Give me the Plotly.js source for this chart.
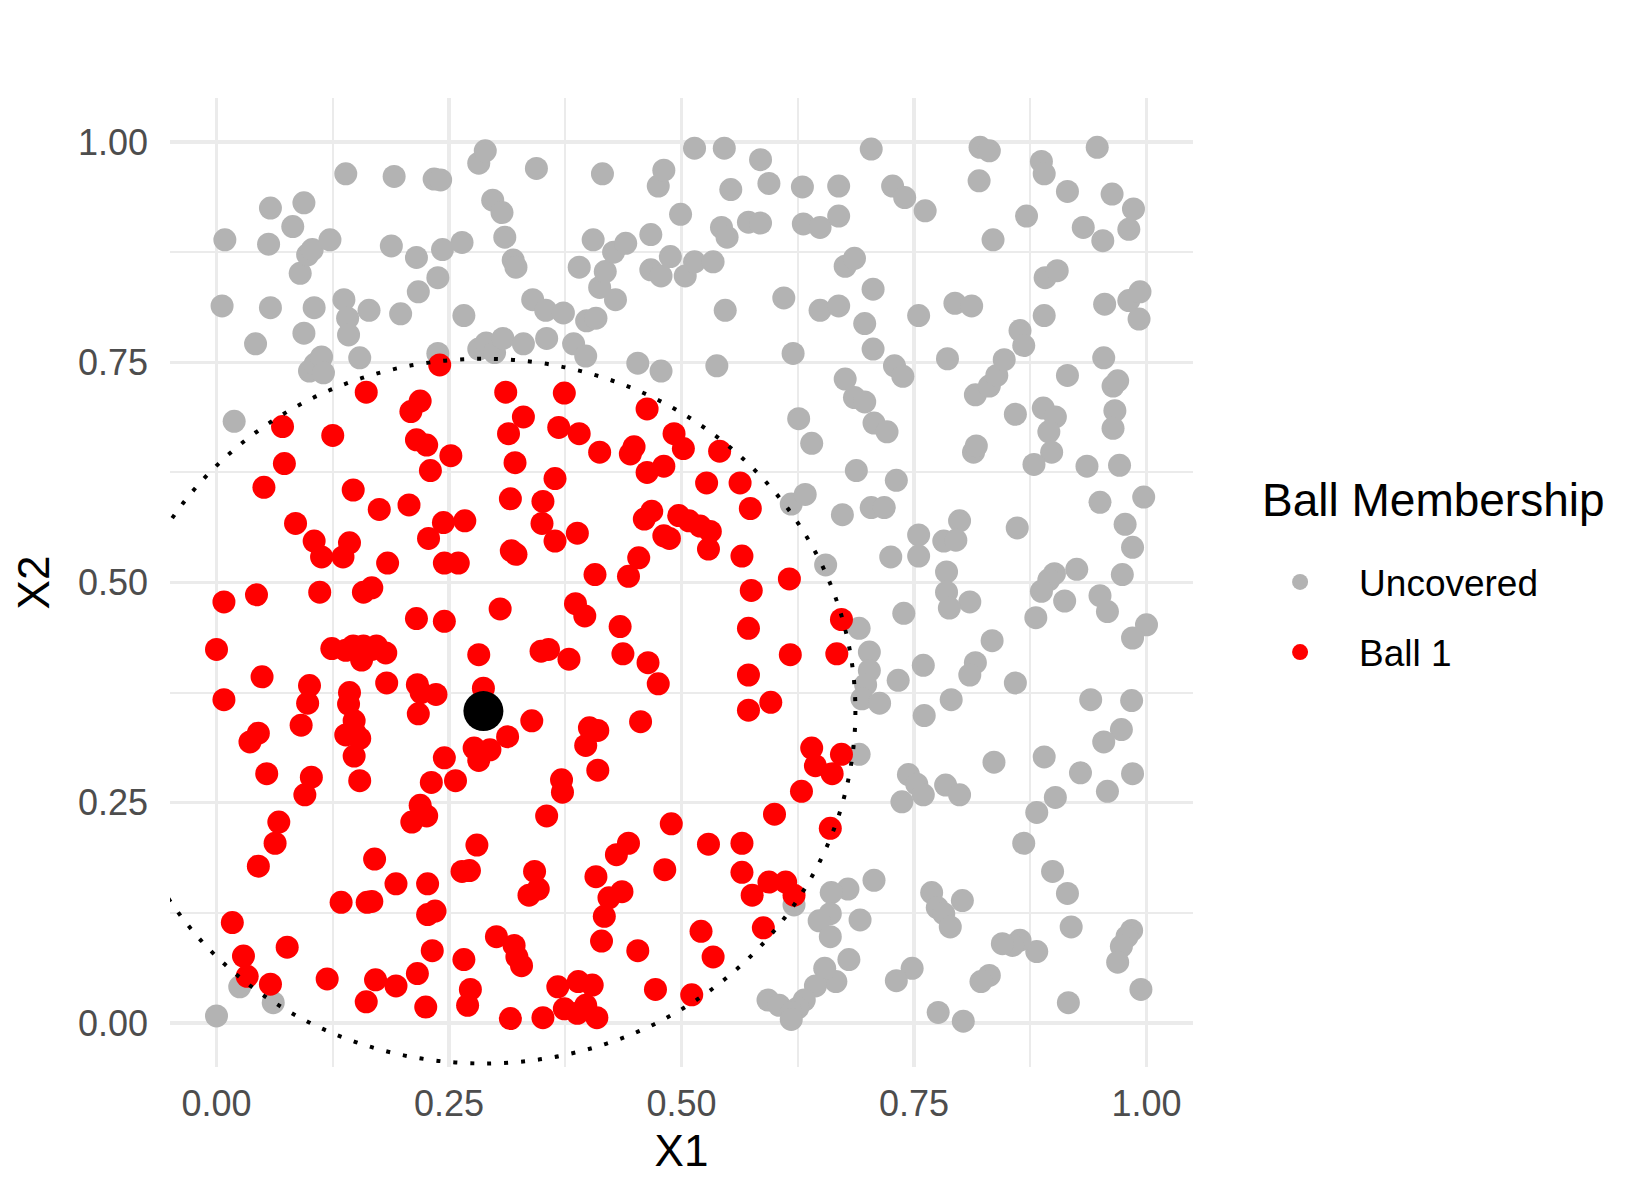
<!DOCTYPE html>
<html>
<head>
<meta charset="utf-8">
<script src="https://cdn.plot.ly/plotly-3.0.1.min.js"></script>
<style>
  body { margin: 0; background: #fff; }
  #chart { width: 1650px; height: 1200px; }
</style>
</head>
<body>
<div id="chart"></div>
<script>
// points outside the ball, [X1, X2]
var uncoveredPts = [
  [0.006,0.814],[0.009,0.889],[0.019,0.683],[0.042,0.771],[0.058,0.925],[0.056,0.884],[0.058,0.812],
  [0.094,0.931],[0.082,0.904],[0.090,0.851],[0.098,0.872],[0.103,0.878],[0.105,0.812],[0.094,0.783],
  [0.100,0.740],[0.106,0.748],[0.113,0.756],[0.115,0.738],[0.122,0.889],[0.139,0.964],[0.137,0.821],
  [0.141,0.800],[0.142,0.781],[0.154,0.755],[0.164,0.809],[0.191,0.961],[0.188,0.882],[0.198,0.805],
  [0.215,0.869],[0.217,0.830],[0.234,0.958],[0.241,0.957],[0.238,0.846],[0.243,0.878],[0.238,0.760],
  [0.264,0.886],[0.266,0.803],[0.282,0.976],[0.289,0.990],[0.297,0.934],[0.307,0.920],[0.310,0.892],
  [0.319,0.866],[0.322,0.858],[0.282,0.765],[0.290,0.772],[0.299,0.761],[0.308,0.777],[0.330,0.771],
  [0.344,0.970],[0.340,0.821],[0.354,0.809],[0.355,0.777],[0.373,0.806],[0.384,0.771],[0.397,0.757],
  [0.390,0.858],[0.398,0.797],[0.408,0.800],[0.405,0.889],[0.415,0.964],[0.412,0.835],[0.418,0.853],
  [0.427,0.875],[0.440,0.885],[0.429,0.821],[0.453,0.749],[0.467,0.895],[0.467,0.855],[0.478,0.848],
  [0.475,0.950],[0.481,0.968],[0.488,0.870],[0.478,0.740],[0.499,0.918],[0.504,0.848],[0.514,0.993],
  [0.514,0.864],[0.534,0.864],[0.546,0.993],[0.543,0.903],[0.549,0.892],[0.553,0.946],[0.547,0.809],
  [0.538,0.746],[0.572,0.909],[0.585,0.908],[0.585,0.980],[0.594,0.953],[0.610,0.823],[0.630,0.949],
  [0.631,0.907],[0.649,0.903],[0.620,0.760],[0.649,0.809],[0.669,0.950],[0.669,0.916],[0.669,0.814],
  [0.676,0.859],[0.686,0.868],[0.704,0.992],[0.697,0.794],[0.706,0.833],[0.706,0.765],[0.676,0.731],
  [0.686,0.710],[0.697,0.705],[0.727,0.950],[0.740,0.937],[0.762,0.922],[0.755,0.803],[0.729,0.746],
  [0.738,0.734],[0.786,0.754],[0.794,0.817],[0.812,0.814],[0.821,0.994],[0.831,0.990],[0.820,0.956],
  [0.835,0.889],[0.816,0.713],[0.831,0.723],[0.839,0.735],[0.847,0.753],[0.864,0.786],[0.871,0.916],
  [0.887,0.978],[0.890,0.964],[0.891,0.846],[0.904,0.854],[0.890,0.803],[0.915,0.944],[0.932,0.903],
  [0.947,0.994],[0.953,0.888],[0.955,0.816],[0.963,0.941],[0.981,0.901],[0.986,0.924],[0.981,0.820],
  [0.993,0.830],[0.992,0.799],[0.868,0.769],[0.859,0.691],[0.889,0.698],[0.902,0.688],[0.895,0.671],
  [0.898,0.648],[0.879,0.634],[0.915,0.735],[0.936,0.632],[0.954,0.755],[0.964,0.723],[0.969,0.729],
  [0.966,0.695],[0.964,0.675],[0.971,0.633],[0.997,0.597],[0.950,0.591],[0.977,0.566],[0.985,0.540],
  [0.974,0.509],[0.950,0.485],[0.958,0.467],[0.925,0.515],[0.912,0.479],[0.901,0.510],[0.895,0.503],
  [0.887,0.490],[0.861,0.562],[0.881,0.460],[1.000,0.452],[0.985,0.437],[0.940,0.367],[0.984,0.366],
  [0.973,0.333],[0.954,0.319],[0.890,0.302],[0.929,0.284],[0.902,0.256],[0.882,0.239],[0.958,0.263],
  [0.985,0.283],[0.868,0.204],[0.899,0.172],[0.915,0.147],[0.919,0.109],[0.984,0.105],[0.979,0.098],
  [0.973,0.087],[0.969,0.069],[0.994,0.038],[0.916,0.023],[0.882,0.081],[0.864,0.094],[0.856,0.088],
  [0.845,0.090],[0.831,0.054],[0.822,0.047],[0.836,0.296],[0.859,0.386],[0.834,0.434],[0.816,0.409],
  [0.810,0.395],[0.810,0.478],[0.799,0.570],[0.782,0.547],[0.795,0.548],[0.785,0.512],[0.785,0.489],
  [0.788,0.471],[0.755,0.554],[0.755,0.530],[0.725,0.529],[0.739,0.465],[0.760,0.406],[0.733,0.389],
  [0.790,0.367],[0.761,0.349],[0.744,0.282],[0.753,0.271],[0.760,0.259],[0.737,0.251],[0.784,0.270],
  [0.799,0.259],[0.769,0.148],[0.775,0.131],[0.782,0.124],[0.789,0.109],[0.802,0.139],[0.748,0.062],
  [0.731,0.048],[0.776,0.012],[0.803,0.002],[0.707,0.162],[0.692,0.117],[0.680,0.072],[0.666,0.047],
  [0.679,0.152],[0.661,0.148],[0.660,0.124],[0.648,0.116],[0.660,0.098],[0.654,0.062],[0.644,0.042],
  [0.632,0.026],[0.625,0.017],[0.593,0.026],[0.605,0.020],[0.618,0.012],[0.618,0.004],[0.621,0.134],
  [0.691,0.305],[0.691,0.448],[0.702,0.421],[0.702,0.400],[0.698,0.384],[0.694,0.368],[0.713,0.363],
  [0.704,0.585],[0.718,0.585],[0.707,0.681],[0.721,0.671],[0.688,0.627],[0.618,0.589],[0.633,0.600],
  [0.626,0.686],[0.640,0.658],[0.673,0.577],[0.655,0.520],[0.731,0.616],[0.000,0.008],[0.025,0.041],
  [0.061,0.023],[0.814,0.648],[0.817,0.655]
];

// points inside ball 1
var ballPts = [
  [0.240,0.747],[0.311,0.716],[0.330,0.688],[0.161,0.716],[0.209,0.694],[0.219,0.706],[0.374,0.715],
  [0.463,0.697],[0.071,0.677],[0.125,0.667],[0.073,0.635],[0.215,0.662],[0.226,0.656],[0.230,0.627],
  [0.252,0.644],[0.314,0.669],[0.368,0.676],[0.390,0.669],[0.412,0.648],[0.445,0.646],[0.449,0.654],
  [0.492,0.669],[0.502,0.652],[0.481,0.632],[0.463,0.625],[0.541,0.649],[0.051,0.608],[0.147,0.605],
  [0.175,0.583],[0.207,0.588],[0.316,0.595],[0.364,0.618],[0.351,0.592],[0.321,0.636],[0.085,0.567],
  [0.105,0.547],[0.113,0.529],[0.136,0.529],[0.143,0.545],[0.184,0.522],[0.228,0.550],[0.244,0.568],
  [0.267,0.570],[0.245,0.522],[0.260,0.522],[0.317,0.536],[0.322,0.532],[0.350,0.567],[0.364,0.547],
  [0.388,0.556],[0.407,0.509],[0.460,0.572],[0.468,0.581],[0.454,0.528],[0.443,0.507],[0.481,0.553],
  [0.487,0.550],[0.497,0.576],[0.508,0.570],[0.520,0.564],[0.531,0.558],[0.529,0.538],[0.527,0.613],
  [0.563,0.613],[0.574,0.584],[0.565,0.530],[0.008,0.478],[0.043,0.486],[0.111,0.489],[0.158,0.489],
  [0.167,0.494],[0.215,0.459],[0.245,0.456],[0.305,0.470],[0.386,0.476],[0.396,0.462],[0.434,0.450],
  [0.437,0.419],[0.464,0.409],[0.475,0.385],[0.575,0.491],[0.616,0.504],[0.572,0.448],[0.672,0.458],
  [0.617,0.418],[0.667,0.419],[0.572,0.395],[0.596,0.364],[0.572,0.355],[0.000,0.424],[0.008,0.367],
  [0.049,0.393],[0.124,0.425],[0.139,0.423],[0.147,0.428],[0.154,0.421],[0.158,0.428],[0.167,0.424],
  [0.172,0.428],[0.182,0.420],[0.156,0.412],[0.183,0.386],[0.100,0.383],[0.098,0.363],[0.091,0.338],
  [0.142,0.362],[0.143,0.375],[0.148,0.343],[0.139,0.327],[0.149,0.329],[0.148,0.303],[0.154,0.323],
  [0.154,0.275],[0.216,0.384],[0.220,0.375],[0.236,0.373],[0.217,0.351],[0.282,0.418],[0.287,0.380],
  [0.349,0.422],[0.357,0.424],[0.379,0.413],[0.313,0.325],[0.339,0.343],[0.277,0.312],[0.294,0.310],
  [0.282,0.298],[0.401,0.335],[0.410,0.332],[0.397,0.315],[0.456,0.342],[0.410,0.287],[0.371,0.276],
  [0.372,0.262],[0.245,0.301],[0.231,0.273],[0.257,0.275],[0.036,0.319],[0.045,0.329],[0.054,0.283],
  [0.102,0.279],[0.095,0.259],[0.067,0.228],[0.063,0.204],[0.045,0.178],[0.210,0.228],[0.219,0.247],
  [0.226,0.235],[0.280,0.202],[0.264,0.172],[0.272,0.173],[0.170,0.186],[0.193,0.158],[0.227,0.158],
  [0.162,0.137],[0.167,0.138],[0.134,0.137],[0.227,0.123],[0.235,0.127],[0.017,0.114],[0.029,0.076],
  [0.033,0.053],[0.058,0.044],[0.076,0.086],[0.119,0.050],[0.171,0.049],[0.193,0.042],[0.161,0.024],
  [0.216,0.056],[0.232,0.082],[0.225,0.018],[0.266,0.072],[0.273,0.038],[0.270,0.020],[0.301,0.098],
  [0.320,0.088],[0.323,0.075],[0.328,0.065],[0.316,0.005],[0.351,0.006],[0.367,0.041],[0.389,0.047],
  [0.404,0.043],[0.374,0.016],[0.388,0.011],[0.397,0.020],[0.409,0.006],[0.414,0.093],[0.408,0.166],
  [0.417,0.121],[0.422,0.142],[0.436,0.149],[0.430,0.191],[0.443,0.204],[0.342,0.172],[0.346,0.152],
  [0.336,0.145],[0.355,0.235],[0.453,0.082],[0.472,0.038],[0.482,0.174],[0.489,0.226],[0.511,0.032],
  [0.521,0.104],[0.534,0.075],[0.529,0.203],[0.565,0.204],[0.565,0.171],[0.576,0.145],[0.588,0.108],
  [0.594,0.160],[0.612,0.160],[0.621,0.145],[0.600,0.237],[0.629,0.263],[0.640,0.312],[0.644,0.292],
  [0.662,0.283],[0.672,0.305],[0.660,0.221]
];

var ballCenter = [0.287, 0.354];
var ballRadius = 0.4;

var tickVals = [0, 0.25, 0.5, 0.75, 1];
var tickText = ['0.00', '0.25', '0.50', '0.75', '1.00'];
var minorVals = [0.125, 0.375, 0.625, 0.875];

var GRID = '#ebebeb';
var FONT = 'Liberation Sans, Arial, Helvetica, sans-serif';

function col(pts, i) {
  return pts.map(function (p) { return p[i]; });
}

var uncovered = {
  x: col(uncoveredPts, 0), y: col(uncoveredPts, 1),
  type: 'scatter', mode: 'markers', name: 'Uncovered',
  legendgroup: 'a',
  marker: { color: '#b3b3b3', size: 23 },
  hoverinfo: 'x+y'
};

var ball = {
  x: col(ballPts, 0), y: col(ballPts, 1),
  type: 'scatter', mode: 'markers', name: 'Ball 1',
  legendgroup: 'b',
  marker: { color: '#ff0000', size: 23 },
  hoverinfo: 'x+y'
};

var center = {
  x: [ballCenter[0]], y: [ballCenter[1]],
  type: 'scatter', mode: 'markers', showlegend: false,
  marker: { color: '#000000', size: 40 },
  hoverinfo: 'x+y'
};

function axis(title, labelGap, titleGap) {
  return {
    range: [-0.05, 1.05],
    tickmode: 'array', tickvals: tickVals, ticktext: tickText,
    ticks: '', showline: false, zeroline: false,
    showgrid: true, gridcolor: GRID, gridwidth: 3.4,
    minor: { tickmode: 'array', tickvals: minorVals, showgrid: true, gridcolor: GRID, gridwidth: 1.8, ticks: '' },
    tickfont: { family: FONT, size: 36, color: '#4d4d4d' },
    ticklabelstandoff: labelGap,
    title: { text: title, font: { family: FONT, size: 44, color: '#000' }, standoff: titleGap },
    automargin: false,
    fixedrange: true
  };
}

var layout = {
  width: 1650, height: 1200,
  margin: { l: 170, r: 457, t: 98, b: 133 },
  paper_bgcolor: '#ffffff', plot_bgcolor: '#ffffff',
  font: { family: FONT, color: '#000' },
  xaxis: axis('X1', 12, 12),
  yaxis: axis('X2', 21, 14),
  showlegend: true,
  legend: {
    x: 1.047, xanchor: 'left', y: 0.464, yanchor: 'middle',
    traceorder: 'grouped', tracegroupgap: 19,
    font: { family: FONT, size: 37, color: '#000' },
    itemwidth: 108,
    bgcolor: 'rgba(0,0,0,0)'
  },
  annotations: [{
    text: 'Ball Membership', xref: 'paper', yref: 'paper',
    x: 1.0655, y: 0.585, xanchor: 'left', yanchor: 'middle',
    showarrow: false, font: { family: FONT, size: 46, color: '#000' }
  }],
  shapes: [{
    type: 'circle', xref: 'x', yref: 'y',
    x0: ballCenter[0] - ballRadius, x1: ballCenter[0] + ballRadius,
    y0: ballCenter[1] - ballRadius, y1: ballCenter[1] + ballRadius,
    line: { color: '#000', width: 4, dash: '4px,13px' },
    layer: 'above'
  }]
};

Plotly.newPlot('chart', [uncovered, ball, center], layout, { displayModeBar: false, staticPlot: true });
</script>
</body>
</html>
